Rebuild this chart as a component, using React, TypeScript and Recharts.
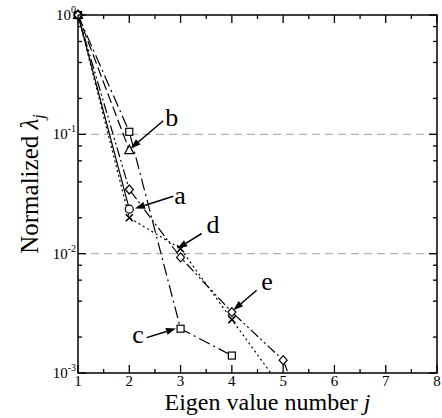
import React from 'react';
import {
  LineChart,
  Line,
  XAxis,
  YAxis,
  ReferenceLine,
  ReferenceArea,
  ReferenceDot,
} from 'recharts';

// eigen value number j
const jValues = [1, 2, 3, 4, 5, 6];

// normalized eigen values per case
const curveA = [1, 0.0236];
const curveB = [1, 0.0737];
const curveC = [1, 0.105, 0.00235, 0.0014];
const curveD = [1, 0.02, 0.011, 0.0028, 0.00072];
const curveE = [1, 0.0345, 0.0093, 0.00324, 0.00128, 0.0001];

const xTicks = [1, 1.5, 2, 2.5, 3, 3.5, 4, 4.5, 5, 5.5, 6, 6.5, 7, 7.5, 8];
const yTicks = [
  0.001, 0.002, 0.004, 0.006, 0.008,
  0.01, 0.02, 0.04, 0.06, 0.08,
  0.1, 0.2, 0.4, 0.6, 0.8, 1,
];
const yDecades = [0.001, 0.01, 0.1, 1];
const gridLevels = [0.1, 0.01];

// annotation letters and arrows, in data coordinates
const annotations = [
  { letter: 'a', text: [2.99, 0.026], from: [2.858, 0.0303], to: [2.111, 0.0239] },
  { letter: 'b', text: [2.827, 0.117], from: [2.663, 0.13], to: [2.027, 0.0762] },
  { letter: 'c', text: [2.17, 0.00177], from: [2.339, 0.00198], to: [2.911, 0.00236] },
  { letter: 'd', text: [3.632, 0.0148], from: [3.412, 0.01476], to: [2.936, 0.01104] },
  { letter: 'e', text: [4.685, 0.00494], from: [4.484, 0.00494], to: [4.028, 0.00336] },
];

const series = [
  { key: 'a', values: curveA, dash: undefined, marker: 'circle' },
  { key: 'b', values: curveB, dash: '10 4', marker: 'triangle' },
  { key: 'c', values: curveC, dash: '12 4 2 4', marker: 'square' },
  { key: 'd', values: curveD, dash: '2 3', marker: 'cross' },
  { key: 'e', values: curveE, dash: '10 3 2 3 2 3', marker: 'diamond' },
];

const Y_MIN = 0.001;

const rows = jValues.map((j, i) => {
  const row: any = { j };
  series.forEach((s) => {
    const v = s.values[i];
    row[s.key] = v ?? null;
    row[s.key + 'Mark'] = v != null && v >= Y_MIN ? v : null;
  });
  return row;
});

const W = 442;
const H = 418;
const MARGIN = { top: 15, right: 5, left: 0, bottom: 0 };
const Y_AXIS_W = 78;
const X_AXIS_H = 45;
const PLOT_W = W - MARGIN.left - MARGIN.right - Y_AXIS_W;
const PLOT_H = H - MARGIN.top - MARGIN.bottom - X_AXIS_H;
const FONT = '"Liberation Serif", "Times New Roman", serif';

const XTick = (props: any) => {
  const { x, y, payload } = props;
  const v = payload.value;
  const major = Number.isInteger(v);
  const len = major ? 8 : 4;
  return (
    <g>
      <line x1={x} y1={y} x2={x} y2={y - len} stroke="#000" strokeWidth={1.3} />
      <line x1={x} y1={y - PLOT_H} x2={x} y2={y - PLOT_H + len} stroke="#000" strokeWidth={1.3} />
      {major && (
        <text x={x} y={y + 13} textAnchor="middle" fontSize={15} fontFamily={FONT} fill="#000">
          {v}
        </text>
      )}
    </g>
  );
};

const YTick = (props: any) => {
  const { x, y, payload } = props;
  const v = payload.value;
  const major = yDecades.some((d) => Math.abs(d - v) < d * 1e-6);
  const len = major ? 8 : 4;
  return (
    <g>
      <line x1={x} y1={y} x2={x + len} y2={y} stroke="#000" strokeWidth={1.3} />
      <line x1={x + PLOT_W} y1={y} x2={x + PLOT_W - len} y2={y} stroke="#000" strokeWidth={1.3} />
      {major && (
        <text x={x - 2} y={y + 5} textAnchor="end" fontSize={15} fontFamily={FONT} fill="#000">
          <tspan>10</tspan>
          <tspan dy={-7} fontSize={10}>
            {Math.round(Math.log10(v))}
          </tspan>
        </text>
      )}
    </g>
  );
};

const Marker = ({ cx, cy, kind }: any) => {
  const s = { stroke: '#000', strokeWidth: 1.2, fill: '#fff' };
  switch (kind) {
    case 'circle':
      return <circle cx={cx} cy={cy} r={4} {...s} />;
    case 'triangle':
      return <polygon points={`${cx},${cy - 5} ${cx - 4.5},${cy + 3.5} ${cx + 4.5},${cy + 3.5}`} {...s} />;
    case 'square':
      return <rect x={cx - 3.5} y={cy - 3.5} width={7} height={7} {...s} />;
    case 'diamond':
      return <polygon points={`${cx},${cy - 4.5} ${cx + 4},${cy} ${cx},${cy + 4.5} ${cx - 4},${cy}`} {...s} />;
    default:
      return (
        <g stroke="#000" strokeWidth={1.6}>
          <line x1={cx - 3.5} y1={cy - 3.5} x2={cx + 3.5} y2={cy + 3.5} />
          <line x1={cx - 3.5} y1={cy + 3.5} x2={cx + 3.5} y2={cy - 3.5} />
        </g>
      );
  }
};

const makeDot = (kind: string) => (p: any) => {
  if (p.cy == null || p.value == null) return <g key={p.key} />;
  return <Marker key={p.key} cx={p.cx} cy={p.cy} kind={kind} />;
};

const Arrow = (p: any) => {
  const { x1, y1, x2, y2 } = p;
  const ang = Math.atan2(y2 - y1, x2 - x1);
  const len = 10;
  const half = 3.5;
  const bx = x2 - len * Math.cos(ang);
  const by = y2 - len * Math.sin(ang);
  const nx = -Math.sin(ang);
  const ny = Math.cos(ang);
  return (
    <g>
      <line x1={x1} y1={y1} x2={bx} y2={by} stroke="#000" strokeWidth={1.5} />
      <polygon
        points={`${x2},${y2} ${bx + half * nx},${by + half * ny} ${bx - half * nx},${by - half * ny}`}
        fill="#000"
      />
    </g>
  );
};

const letterShape = (letter: string) => (p: any) => (
  <text x={p.cx} y={p.cy} textAnchor="middle" fontSize={26} fontFamily={FONT} fill="#000">
    {letter}
  </text>
);

const XTitle = (p: any) => {
  const vb = p.viewBox;
  return (
    <text x={vb.x + vb.width / 2 + 10} y={vb.y + 37} textAnchor="middle" fontSize={24} fontFamily={FONT} fill="#000">
      <tspan>Eigen value number </tspan>
      <tspan fontStyle="italic">j</tspan>
    </text>
  );
};

const YTitle = () => {
  const cx = 38;
  const cy = 184;
  return (
    <text
      x={cx}
      y={cy}
      transform={`rotate(-90, ${cx}, ${cy})`}
      textAnchor="middle"
      fontSize={25}
      fontFamily={FONT}
      fill="#000"
    >
      <tspan>Normalized </tspan>
      <tspan fontStyle="italic">λ</tspan>
      <tspan fontStyle="italic" fontSize={16} dy={6}>j</tspan>
    </text>
  );
};

export default function App() {
  return (
    <div style={{ position: 'absolute', left: 0, top: 0, width: W, height: H, background: '#fff' }}>
      <LineChart width={W} height={H} data={rows} margin={MARGIN}>
        <XAxis
          dataKey="j"
          type="number"
          domain={[1, 8]}
          ticks={xTicks}
          interval={0}
          height={X_AXIS_H}
          axisLine={false}
          tickLine={false}
          tickSize={0}
          tickMargin={0}
          tick={<XTick />}
          label={{ content: <XTitle /> } as any}
        />
        <YAxis
          type="number"
          scale="log"
          domain={[0.001, 1]}
          ticks={yTicks}
          interval={0}
          width={Y_AXIS_W}
          axisLine={false}
          tickLine={false}
          tickSize={0}
          tickMargin={0}
          tick={<YTick />}
          label={{ content: <YTitle /> } as any}
        />
        <YAxis yAxisId="clip" type="number" scale="log" domain={[0.001, 1]} allowDataOverflow hide />

        {gridLevels.map((g) => (
          <ReferenceLine key={g} y={g} stroke="#b4b4b4" strokeWidth={1.2} strokeDasharray="8 5" />
        ))}

        {series.map((s) => (
          <Line
            key={s.key}
            yAxisId="clip"
            type="linear"
            dataKey={s.key}
            stroke="#000"
            strokeWidth={1.2}
            strokeDasharray={s.dash}
            dot={false}
            activeDot={false}
            connectNulls={false}
            isAnimationActive={false}
          />
        ))}

        <ReferenceArea x1={1} x2={8} y1={0.001} y2={1} fill="none" stroke="#000" strokeWidth={1.5} />

        {series.map((s) => (
          <Line
            key={s.key + 'Mark'}
            type="linear"
            dataKey={s.key + 'Mark'}
            stroke="none"
            dot={makeDot(s.marker)}
            activeDot={false}
            isAnimationActive={false}
          />
        ))}

        {annotations.map((a) => (
          <ReferenceLine
            key={'arrow-' + a.letter}
            segment={[
              { x: a.from[0], y: a.from[1] },
              { x: a.to[0], y: a.to[1] },
            ]}
            shape={Arrow}
          />
        ))}
        {annotations.map((a) => (
          <ReferenceDot
            key={'letter-' + a.letter}
            x={a.text[0]}
            y={a.text[1]}
            r={0}
            shape={letterShape(a.letter)}
          />
        ))}
      </LineChart>
    </div>
  );
}
